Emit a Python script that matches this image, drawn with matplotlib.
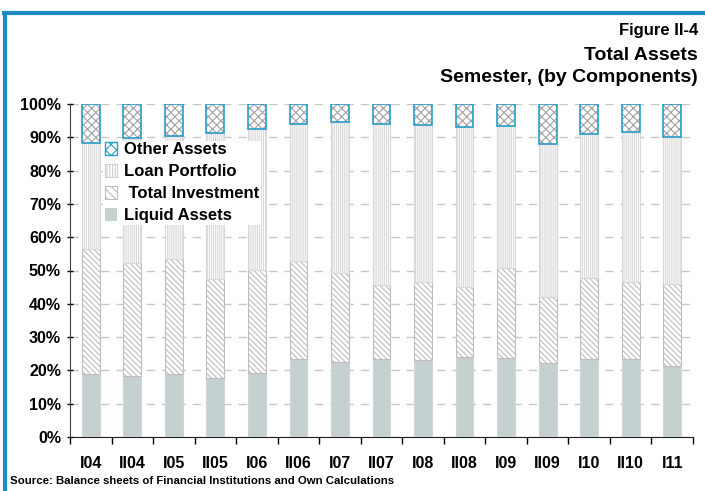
import matplotlib
matplotlib.use("Agg")
import matplotlib.pyplot as plt
import numpy as np
from matplotlib.patches import Patch
from matplotlib.lines import Line2D

plt.rcParams['font.family'] = ['Liberation Sans', 'DejaVu Sans']
plt.rcParams['hatch.linewidth'] = 0.8

categories = ["I04", "II04", "I05", "II05", "I06", "II06", "I07", "II07",
              "I08", "II08", "I09", "II09", "I10", "II10", "I11"]
# cumulative tops (percent)
liquid_top = [18.9, 18.2, 18.8, 17.8, 19.3, 23.3, 22.4, 23.5, 23.1, 23.9, 23.8, 22.3, 23.5, 23.3, 21.2]
invest_top = [56.4, 52.4, 53.5, 47.5, 50.1, 53.0, 49.2, 45.7, 46.5, 45.1, 50.7, 42.1, 47.6, 46.5, 45.9]
loan_top   = [88.3, 89.9, 90.3, 91.3, 92.5, 93.9, 94.5, 94.1, 93.8, 93.1, 93.3, 87.9, 90.9, 91.5, 90.0]

liquid = np.array(liquid_top)
investment = np.array(invest_top) - np.array(liquid_top)
loans = np.array(loan_top) - np.array(invest_top)
other = 100 - np.array(loan_top)

fig = plt.figure(figsize=(7.05, 4.91), dpi=100)
ax = fig.add_axes([70/705, 1-437/491, (693-70)/705, (437-104)/491])

x = np.arange(len(categories))
w = 0.43
blue = '#2a9cc8'
inv_hatch = '\\' * 6
loan_hatch = '|' * 8
oth_hatch = 'x' * 4

ax.bar(x, liquid, w, color='#c5d0d1', edgecolor='#d4d4d4', linewidth=0.8, zorder=3)
ax.bar(x, investment, w, bottom=liquid, color='white', edgecolor='#bdbdbd',
       hatch=inv_hatch, linewidth=0.8, zorder=3)
ax.bar(x, loans, w, bottom=liquid + investment, color='white', edgecolor='#d8d8d8',
       hatch=loan_hatch, linewidth=0.8, zorder=3)
ax.bar(x, other, w, bottom=liquid + investment + loans, color='white', edgecolor='#a0a0a0',
       hatch=oth_hatch, linewidth=0, zorder=3)
ax.bar(x, other, w, bottom=liquid + investment + loans, fill=False, edgecolor=blue,
       linewidth=1.2, zorder=4)

ax.set_xlim(-0.5, len(categories) - 0.5)
ax.set_ylim(0, 100)
ax.set_yticks(np.arange(0, 101, 10))
ax.set_yticklabels([f"{v}%" for v in range(0, 101, 10)], fontsize=11.5, fontweight='bold')
ax.set_xticks(x)
ax.set_xticklabels(categories, fontsize=11.5, fontweight='bold')
ax.set_xticks(np.arange(-0.5, len(categories), 1), minor=True)
ax.tick_params(axis='x', which='major', length=0, pad=14)
ax.tick_params(axis='x', which='minor', length=5, direction='out', width=1)
ax.tick_params(axis='y', length=5, direction='inout', width=1, pad=4)

ax.yaxis.grid(True, linestyle=(0, (6, 5)), color='#c8c8c8', linewidth=1, zorder=0)
ax.set_axisbelow(True)
for s in ['top', 'right']:
    ax.spines[s].set_visible(False)
ax.spines['left'].set_color('#404040')
ax.spines['bottom'].set_color('#202020')

handles = [
    Patch(facecolor='white', edgecolor=blue, hatch='xxx', linewidth=1, label='Other Assets'),
    Patch(facecolor='white', edgecolor='#cfcfcf', hatch='||||||', linewidth=0.8, label='Loan Portfolio'),
    Patch(facecolor='white', edgecolor='#bdbdbd', hatch='\\\\\\\\', linewidth=0.8, label=' Total Investment'),
    Patch(facecolor='#c5d0d1', edgecolor='#c5d0d1', linewidth=0, label='Liquid Assets'),
]
leg = ax.legend(handles=handles, loc='upper left', bbox_to_anchor=(0.053, 0.89),
                frameon=True, fancybox=False, framealpha=1, edgecolor='none',
                facecolor='white', prop={'weight': 'bold', 'size': 12},
                handlelength=0.75, handleheight=0.75, handletextpad=0.4,
                labelspacing=0.42, borderpad=0.1, borderaxespad=0)
leg.set_zorder(5)

fig.text(698/705, 1-31/491, "Figure II-4", ha='right', va='center', fontsize=12, fontweight='bold')
fig.text(698/705, 1-55/491, "Total Assets", ha='right', va='center', fontsize=14, fontweight='bold')
fig.text(698/705, 1-78/491, "Semester, (by Components)", ha='right', va='center', fontsize=14, fontweight='bold')
fig.text(10/705, 1-481/491, "Source: Balance sheets of Financial Institutions and Own Calculations",
         ha='left', va='center', fontsize=8.2, fontweight='bold')

# blue frame (top and left)
fig.add_artist(Line2D([5/705, 5/705], [0, 1-13/491], transform=fig.transFigure,
                      color='#1a8cc2', linewidth=3))
fig.add_artist(Line2D([4/705, 1], [1-13/491, 1-13/491], transform=fig.transFigure,
                      color='#1a8cc2', linewidth=3))

fig.savefig("out.png", dpi=100)
